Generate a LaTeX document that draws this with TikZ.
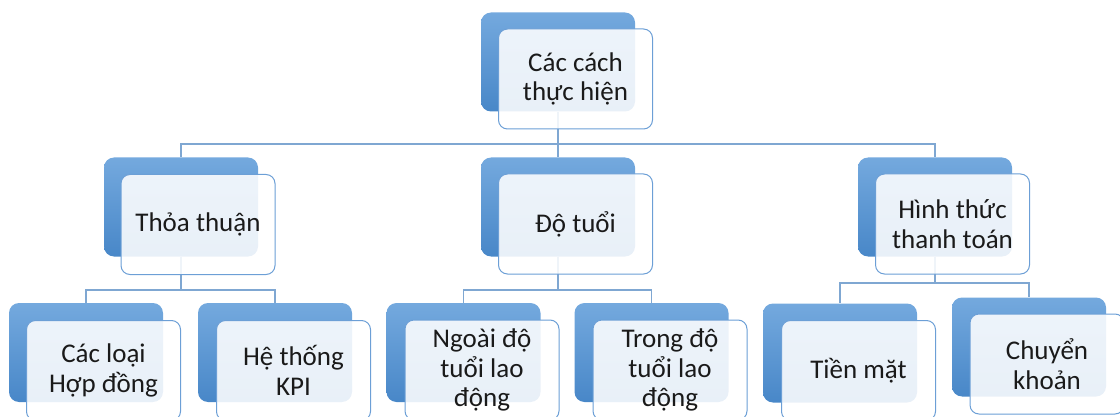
\documentclass[tikz,border=0pt]{standalone}
\usepackage{fontspec}
\setmainfont{Carlito}
\definecolor{backtop}{HTML}{74A9DE}
\definecolor{backbot}{HTML}{4887C8}
\definecolor{frontline}{HTML}{6C9FD6}
\definecolor{conn}{HTML}{7FA7D2}
\definecolor{txt}{HTML}{1A1A1A}
\tikzset{
  backbox/.style={rectangle, rounded corners=10pt, inner sep=0pt,
    minimum width=154pt, minimum height=99pt,
    top color=backtop, bottom color=backbot, draw=none},
  frontbox/.style={rectangle, rounded corners=9pt, inner sep=0pt,
    minimum width=154pt, minimum height=100pt,
    draw=frontline, line width=1pt, fill=white, fill opacity=0.88,
    text opacity=1, text=txt, align=center,
    font=\fontsize{27}{29.5}\selectfont},
  connector/.style={draw=conn, line width=1.6pt}
}
\begin{document}
\begin{tikzpicture}[x=1pt,y=-1pt]
\useasboundingbox (0,0) rectangle (1120,417);
\clip (0,0) rectangle (1120,417);
% back boxes
\node[backbox] (b0) at (558,62) {};
\node[backbox] (b1) at (181,207) {};
\node[backbox] (b2) at (558,207) {};
\node[backbox] (b3) at (935,207) {};
\node[backbox] (b4) at (86,352.5) {};
\node[backbox] (b5) at (275,352.5) {};
\node[backbox] (b6) at (463.5,352.5) {};
\node[backbox] (b7) at (651.5,352.5) {};
\node[backbox] (b8) at (840,353) {};
\node[backbox] (b9) at (1029,347) {};
% junctions
\coordinate (j0) at (558,144);
\coordinate (j1) at (181,290);
\coordinate (j2) at (558,290);
\coordinate (j3) at (935,283);
% connectors
\draw[connector] (b0.south) -- (j0) -| (b1.north);
\draw[connector] (j0) -- (b2.north);
\draw[connector] (j0) -| (b3.north);
\draw[connector] (b1.south) -- (j1) -| (b4.north);
\draw[connector] (j1) -| (b5.north);
\draw[connector] (b2.south) -- (j2) -| (b6.north);
\draw[connector] (j2) -| (b7.north);
\draw[connector] (b3.south) -- (j3) -| (b8.north);
\draw[connector] (j3) -| (b9.north);
% front boxes
\node[frontbox] (f0) at (575.5,79) {Các cách\\thực hiện};
\node[frontbox] (f1) at (198,224.5) {Thỏa thuận};
\node[frontbox] (f2) at (575.5,224) {Độ tuổi};
\node[frontbox] (f3) at (952.5,224) {Hình thức\\thanh toán};
\node[frontbox] (f4) at (103.5,370.5) {Các loại\\Hợp đồng};
\node[frontbox] (f5) at (293.5,370.5) {Hệ thống\\KPI};
\node[frontbox] (f6) at (482,370) {Ngoài độ\\tuổi lao\\động};
\node[frontbox] (f7) at (670,370) {Trong độ\\tuổi lao\\động};
\node[frontbox] (f8) at (858.5,370.5) {Tiền mặt};
\node[frontbox] (f9) at (1047,364) {Chuyển\\khoản};
\end{tikzpicture}
\end{document}
